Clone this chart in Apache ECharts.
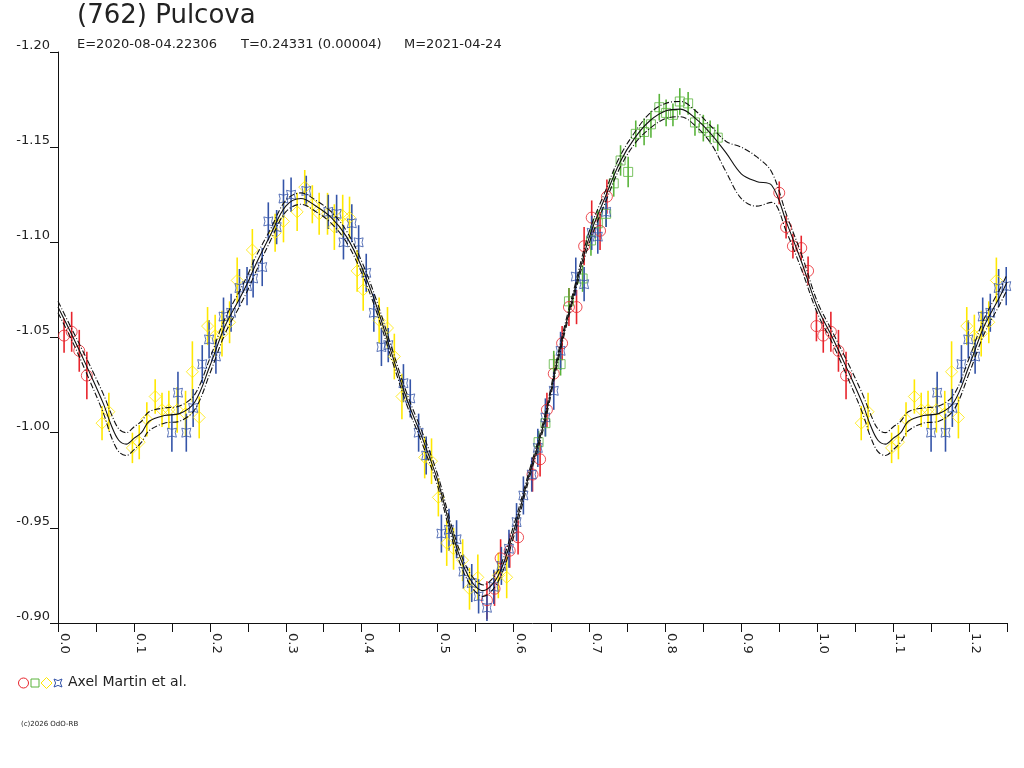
<!DOCTYPE html>
<html>
<head>
<meta charset="utf-8">
<title>(762) Pulcova</title>
<script src="https://cdn.jsdelivr.net/npm/echarts@6/dist/echarts.min.js"></script>
<style>
html, body { margin: 0; padding: 0; background: #fff; }
#chart { width: 1024px; height: 768px; }
</style>
</head>
<body>
<div id="chart"></div>
<script>
// phase range shown on the x axis (data repeats after 1.0)
var phaseMax = 1.25;

// red circles
var redPhase = [0.008, 0.018, 0.028, 0.038, 0.565, 0.575, 0.583, 0.595, 0.606, 0.625, 0.635, 0.644, 0.653, 0.664, 0.673, 0.683, 0.693, 0.703, 0.714, 0.723, 0.950, 0.959, 0.968, 0.979, 0.988, 0.999];
var redMag = [-1.051, -1.053, -1.043, -1.030, -0.912, -0.918, -0.934, -0.938, -0.945, -0.978, -0.986, -1.012, -1.031, -1.047, -1.066, -1.066, -1.098, -1.113, -1.106, -1.124, -1.126, -1.108, -1.098, -1.097, -1.085, -1.056];
var redErr = [0.009, 0.0105, 0.011, 0.0125, 0.010, 0.009, 0.010, 0.009, 0.009, 0.009, 0.009, 0.009, 0.010, 0.009, 0.010, 0.009, 0.010, 0.009, 0.010, 0.009, 0.006, 0.006, 0.0065, 0.0065, 0.0075, 0.008];

// green squares
var greenPhase = [0.633, 0.642, 0.653, 0.662, 0.673, 0.691, 0.702, 0.711, 0.722, 0.732, 0.741, 0.751, 0.761, 0.772, 0.781, 0.792, 0.801, 0.810, 0.819, 0.830, 0.839, 0.850, 0.859, 0.869];
var greenMag = [-0.995, -1.005, -1.036, -1.036, -1.069, -1.081, -1.101, -1.110, -1.115, -1.131, -1.143, -1.137, -1.157, -1.158, -1.162, -1.171, -1.168, -1.167, -1.174, -1.173, -1.163, -1.160, -1.158, -1.155];
var greenErr = [0.006, 0.007, 0.007, 0.006, 0.007, 0.007, 0.008, 0.007, 0.007, 0.007, 0.008, 0.008, 0.007, 0.007, 0.007, 0.007, 0.007, 0.006, 0.007, 0.006, 0.007, 0.007, 0.006, 0.007];

// yellow diamonds
var yellowPhase = [0.058, 0.067, 0.098, 0.107, 0.117, 0.128, 0.137, 0.146, 0.157, 0.168, 0.177, 0.186, 0.197, 0.207, 0.216, 0.226, 0.236, 0.256, 0.286, 0.297, 0.315, 0.325, 0.335, 0.344, 0.355, 0.364, 0.375, 0.384, 0.394, 0.402, 0.423, 0.434, 0.443, 0.453, 0.483, 0.492, 0.501, 0.512, 0.521, 0.533, 0.542, 0.553, 0.580, 0.591];
var yellowMag = [-1.005, -1.011, -0.992, -0.995, -1.007, -1.019, -1.012, -1.012, -1.012, -1.010, -1.032, -1.008, -1.056, -1.051, -1.052, -1.058, -1.080, -1.096, -1.105, -1.111, -1.116, -1.129, -1.120, -1.115, -1.115, -1.108, -1.114, -1.113, -1.085, -1.075, -1.059, -1.055, -1.040, -1.019, -0.987, -0.985, -0.966, -0.942, -0.939, -0.933, -0.918, -0.924, -0.925, -0.924];
var yellowErr = [0.009, 0.010, 0.008, 0.009, 0.009, 0.009, 0.009, 0.010, 0.012, 0.012, 0.016, 0.011, 0.010, 0.011, 0.012, 0.011, 0.012, 0.011, 0.010, 0.011, 0.010, 0.009, 0.010, 0.011, 0.011, 0.012, 0.011, 0.011, 0.011, 0.011, 0.012, 0.011, 0.012, 0.012, 0.011, 0.012, 0.010, 0.012, 0.011, 0.011, 0.011, 0.012, 0.012, 0.011];

// blue stars
var bluePhase = [0.150, 0.158, 0.169, 0.178, 0.190, 0.199, 0.208, 0.218, 0.228, 0.239, 0.249, 0.257, 0.269, 0.277, 0.288, 0.297, 0.307, 0.327, 0.356, 0.367, 0.376, 0.387, 0.396, 0.406, 0.416, 0.426, 0.435, 0.455, 0.464, 0.475, 0.485, 0.505, 0.515, 0.525, 0.534, 0.545, 0.554, 0.565, 0.574, 0.584, 0.594, 0.604, 0.613, 0.624, 0.632, 0.642, 0.653, 0.662, 0.682, 0.693, 0.703, 0.711, 0.722];
var blueMag = [-1.000, -1.021, -1.000, -1.013, -1.036, -1.049, -1.040, -1.061, -1.063, -1.076, -1.077, -1.081, -1.087, -1.111, -1.108, -1.123, -1.125, -1.127, -1.116, -1.115, -1.100, -1.110, -1.100, -1.084, -1.063, -1.045, -1.046, -1.026, -1.018, -1.000, -0.988, -0.947, -0.949, -0.944, -0.927, -0.921, -0.914, -0.908, -0.919, -0.930, -0.939, -0.953, -0.967, -0.978, -0.992, -1.008, -1.022, -1.043, -1.082, -1.078, -1.105, -1.103, -1.116];
var blueErr = [0.010, 0.011, 0.010, 0.010, 0.010, 0.010, 0.009, 0.010, 0.010, 0.010, 0.010, 0.010, 0.010, 0.010, 0.009, 0.010, 0.009, 0.008, 0.009, 0.010, 0.009, 0.010, 0.009, 0.010, 0.010, 0.010, 0.009, 0.010, 0.010, 0.010, 0.010, 0.010, 0.011, 0.010, 0.009, 0.010, 0.009, 0.007, 0.009, 0.010, 0.010, 0.010, 0.010, 0.009, 0.010, 0.010, 0.010, 0.010, 0.010, 0.009, 0.009, 0.009, 0.008];

// fit curve and its two envelopes
var curvePhase = [0.00, 0.02, 0.04, 0.06, 0.07, 0.08, 0.09, 0.10, 0.11, 0.12, 0.14, 0.16, 0.18, 0.20, 0.22, 0.24, 0.25, 0.26, 0.28, 0.30, 0.32, 0.34, 0.36, 0.38, 0.40, 0.42, 0.44, 0.46, 0.48, 0.50, 0.52, 0.54, 0.56, 0.58, 0.60, 0.62, 0.64, 0.66, 0.68, 0.70, 0.72, 0.74, 0.76, 0.78, 0.80, 0.82, 0.84, 0.86, 0.88, 0.90, 0.92, 0.94, 0.96, 0.98, 1.00];
var fitMag = [-1.066, -1.050, -1.033, -1.015, -1.004, -0.996, -0.994, -0.997, -1.000, -1.006, -1.009, -1.010, -1.016, -1.035, -1.056, -1.071, -1.079, -1.088, -1.104, -1.119, -1.123, -1.119, -1.113, -1.103, -1.087, -1.066, -1.041, -1.017, -0.997, -0.975, -0.946, -0.925, -0.917, -0.925, -0.948, -0.977, -1.005, -1.042, -1.074, -1.103, -1.123, -1.142, -1.155, -1.164, -1.169, -1.170, -1.165, -1.157, -1.147, -1.136, -1.132, -1.130, -1.110, -1.089, -1.066];
var upperMag = [-1.069, -1.053, -1.037, -1.020, -1.010, -1.002, -1.000, -1.003, -1.006, -1.011, -1.013, -1.014, -1.020, -1.039, -1.060, -1.075, -1.083, -1.092, -1.107, -1.122, -1.126, -1.122, -1.116, -1.106, -1.090, -1.069, -1.044, -1.020, -1.000, -0.978, -0.949, -0.928, -0.920, -0.928, -0.951, -0.979, -1.007, -1.044, -1.076, -1.106, -1.126, -1.145, -1.158, -1.168, -1.173, -1.174, -1.169, -1.161, -1.153, -1.150, -1.145, -1.137, -1.114, -1.093, -1.069];
var lowerMag = [-1.063, -1.047, -1.029, -1.010, -0.998, -0.990, -0.988, -0.991, -0.995, -1.001, -1.005, -1.006, -1.012, -1.031, -1.052, -1.067, -1.075, -1.084, -1.101, -1.116, -1.120, -1.116, -1.110, -1.100, -1.084, -1.063, -1.038, -1.014, -0.994, -0.972, -0.943, -0.922, -0.914, -0.922, -0.945, -0.975, -1.003, -1.040, -1.072, -1.100, -1.120, -1.139, -1.152, -1.160, -1.165, -1.166, -1.161, -1.152, -1.137, -1.123, -1.119, -1.121, -1.105, -1.085, -1.063];

var FONT = '"DejaVu Sans", sans-serif';
var RED = '#e8242c', GREEN = '#5ab43c', YELLOW = '#ffe800', BLUE = '#3454a8';
var starPath = 'path://M0,0 Q5,2.5 10,0 Q7.5,5 10,10 Q5,7.5 0,10 Q2.5,5 0,0 Z';

// phase-fold: every point is drawn again one period later while it stays on the axis
function folded(phases, mags, errs) {
    var out = [];
    for (var i = 0; i < phases.length; i++) {
        out.push([phases[i], mags[i], errs ? errs[i] : 0]);
    }
    for (var j = 0; j < phases.length; j++) {
        var p = phases[j] + 1;
        if (phases[j] > 0 && p <= phaseMax + 1e-9) {
            out.push([p, mags[j], errs ? errs[j] : 0]);
        }
    }
    return out;
}

function errorBars(data, color) {
    return {
        type: 'custom',
        silent: true,
        clip: true,
        z: 2,
        data: data,
        encode: { x: 0, y: 1 },
        renderItem: function (params, api) {
            var x = api.value(0), y = api.value(1), e = api.value(2);
            var a = api.coord([x, y - e]);
            var b = api.coord([x, y + e]);
            return {
                type: 'line',
                shape: { x1: a[0], y1: a[1], x2: b[0], y2: b[1] },
                style: { stroke: color, lineWidth: 1.6 }
            };
        }
    };
}

function markers(data, color, symbol, size) {
    return {
        type: 'scatter',
        silent: true,
        z: 3,
        data: data,
        symbol: symbol,
        symbolSize: size,
        itemStyle: { color: 'rgba(0,0,0,0)', borderColor: color, borderWidth: 1 },
        emphasis: { disabled: true }
    };
}

function curve(mags, dash) {
    return {
        type: 'line',
        silent: true,
        z: 5,
        data: folded(curvePhase, mags),
        showSymbol: false,
        smooth: 0.35,
        lineStyle: { color: '#111', width: 1.1, type: dash },
        emphasis: { disabled: true }
    };
}

var redData = folded(redPhase, redMag, redErr);
var greenData = folded(greenPhase, greenMag, greenErr);
var yellowData = folded(yellowPhase, yellowMag, yellowErr);
var blueData = folded(bluePhase, blueMag, blueErr);

var chart = echarts.init(document.getElementById('chart'));
var option = {
    backgroundColor: '#fff',
    animation: false,
    title: {
        text: '(762) Pulcova',
        left: 77,
        top: 3,
        padding: 0,
        textStyle: { fontFamily: FONT, fontSize: 26, fontWeight: 'normal', color: '#222' }
    },
    grid: { left: 58, right: 17, top: 52, bottom: 145, containLabel: false },
    xAxis: {
        type: 'value',
        min: 0,
        max: phaseMax,
        interval: 0.05,
        splitLine: { show: false },
        axisLine: { onZero: false, lineStyle: { color: '#111', width: 1 } },
        axisTick: { length: 9, lineStyle: { color: '#111' } },
        axisLabel: {
            rotate: -90,
            verticalAlign: 'bottom',
            margin: 10,
            fontFamily: FONT,
            fontSize: 13,
            color: '#222',
            formatter: function (v) {
                return Math.round(v * 100) % 10 === 0 ? v.toFixed(1) : '';
            }
        }
    },
    yAxis: {
        type: 'value',
        inverse: true,
        min: -1.20,
        max: -0.90,
        interval: 0.05,
        splitLine: { show: false },
        axisLine: { show: true, onZero: false, lineStyle: { color: '#111', width: 1 } },
        axisTick: { show: true, length: 8, lineStyle: { color: '#111' } },
        axisLabel: {
            margin: 8,
            verticalAlign: 'bottom',
            fontFamily: FONT,
            fontSize: 13,
            color: '#222',
            formatter: function (v) { return v.toFixed(2); }
        }
    },
    graphic: [
        { type: 'text', left: 77, top: 38, style: { text: 'E=2020-08-04.22306', font: '13px ' + FONT, fill: '#222' } },
        { type: 'text', left: 241, top: 38, style: { text: 'T=0.24331 (0.00004)', font: '13px ' + FONT, fill: '#222' } },
        { type: 'text', left: 404, top: 38, style: { text: 'M=2021-04-24', font: '13px ' + FONT, fill: '#222' } },
        { type: 'circle', shape: { cx: 23.5, cy: 683, r: 5 }, style: { fill: 'none', stroke: RED, lineWidth: 1 } },
        { type: 'rect', shape: { x: 31, y: 679, width: 8, height: 8 }, style: { fill: 'none', stroke: GREEN, lineWidth: 1 } },
        { type: 'polygon', shape: { points: [[46.5, 677.5], [52, 683], [46.5, 688.5], [41, 683]] }, style: { fill: 'none', stroke: YELLOW, lineWidth: 1 } },
        { type: 'polygon', shape: { points: [[54, 679], [58, 680.6], [62, 679], [60.4, 683], [62, 687], [58, 685.4], [54, 687], [55.6, 683]] }, style: { fill: 'none', stroke: BLUE, lineWidth: 1 } },
        { type: 'text', left: 68, top: 675, style: { text: 'Axel Martin et al.', font: '14px ' + FONT, fill: '#222' } },
        { type: 'text', left: 21, top: 721, style: { text: '(c)2026 OdO-RB', font: '7px ' + FONT, fill: '#222' } }
    ],
    series: [
        errorBars(redData, RED),
        markers(redData, RED, 'circle', 11),
        errorBars(greenData, GREEN),
        markers(greenData, GREEN, 'rect', 9),
        errorBars(yellowData, YELLOW),
        markers(yellowData, YELLOW, 'diamond', 12),
        errorBars(blueData, BLUE),
        markers(blueData, BLUE, starPath, 9),
        curve(fitMag, 'solid'),
        curve(upperMag, [6, 2, 1, 2]),
        curve(lowerMag, [6, 2, 1, 2])
    ]
};
chart.setOption(option);
</script>
</body>
</html>
